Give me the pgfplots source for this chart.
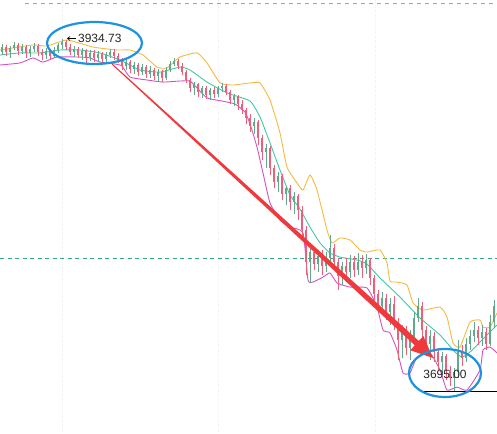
\documentclass[border=0pt]{standalone}
\usepackage{pgfplots}
\pgfplotsset{compat=1.18}
\usepackage{pgfplotstable}
\usepackage{fontspec}
\setmainfont{Liberation Sans}
\usetikzlibrary{arrows.meta}

\definecolor{upc}{RGB}{100,168,140}
\definecolor{dnc}{RGB}{236,96,122}
\definecolor{bandup}{RGB}{246,186,64}
\definecolor{bandmid}{RGB}{58,204,162}
\definecolor{bandlo}{RGB}{214,80,196}
\definecolor{arrowred}{RGB}{238,58,60}
\definecolor{ellblue}{RGB}{30,146,222}
\definecolor{dashgreen}{RGB}{52,168,138}

\pgfplotstableread{
i o h l c
0 3925.9 3931.4 3923.9 3929.3
1 3929.3 3930.7 3923.2 3925.9
2 3925.9 3930.0 3921.9 3928.7
3 3928.7 3932.7 3927.3 3930.7
4 3930.7 3932.1 3923.9 3926.6
5 3926.6 3931.4 3924.6 3929.3
6 3929.3 3930.7 3921.9 3925.3
7 3925.3 3930.0 3922.5 3928.0
8 3928.0 3932.1 3925.9 3930.0
9 3930.0 3931.4 3923.2 3925.9
10 3925.9 3928.0 3920.5 3923.9
11 3923.9 3928.7 3921.2 3926.6
12 3926.6 3928.0 3920.5 3923.2
13 3923.2 3929.3 3921.9 3927.3
14 3927.3 3932.1 3925.3 3930.7
15 3930.7 3934.73 3928.0 3932.7
16 3932.7 3934.1 3927.3 3929.3
17 3929.3 3931.4 3923.9 3925.9
18 3925.9 3930.0 3922.5 3928.0
19 3928.0 3929.3 3921.9 3923.9
20 3923.9 3928.7 3920.5 3926.6
21 3926.6 3928.0 3918.5 3922.5
22 3922.5 3927.3 3919.8 3925.3
23 3925.3 3927.3 3919.1 3921.9
24 3921.9 3926.6 3919.1 3924.6
25 3924.6 3925.9 3918.5 3921.2
26 3921.2 3925.9 3919.1 3923.9
27 3923.9 3928.0 3921.9 3925.9
28 3925.9 3928.0 3920.5 3923.2
29 3923.2 3925.3 3918.5 3920.5
30 3920.5 3921.9 3913.7 3916.4
31 3916.4 3921.2 3913.7 3919.1
32 3919.1 3920.5 3911.7 3914.4
33 3914.4 3919.1 3911.0 3917.1
34 3917.1 3918.5 3909.6 3912.3
35 3912.3 3917.8 3910.3 3915.7
36 3915.7 3917.1 3908.3 3911.0
37 3911.0 3916.4 3908.3 3913.7
38 3913.7 3915.1 3906.9 3909.6
39 3909.6 3914.4 3906.2 3912.3
40 3912.3 3913.7 3905.5 3908.3
41 3908.3 3915.7 3906.9 3913.7
42 3913.7 3919.8 3912.3 3917.8
43 3917.8 3921.9 3916.4 3919.8
44 3919.8 3921.2 3914.4 3916.4
45 3916.4 3918.5 3910.3 3912.3
46 3912.3 3913.7 3904.9 3906.9
47 3906.9 3908.3 3898.7 3901.5
48 3901.5 3905.5 3896.7 3904.2
49 3904.2 3904.9 3895.3 3898.7
50 3898.7 3902.8 3894.7 3901.5
51 3901.5 3902.8 3894.0 3896.7
52 3896.7 3901.5 3893.3 3900.1
53 3900.1 3902.1 3894.7 3897.4
54 3897.4 3902.8 3895.3 3901.5
55 3901.5 3904.9 3898.7 3902.8
56 3902.8 3904.2 3896.7 3898.7
57 3898.7 3900.1 3890.6 3893.3
58 3893.3 3897.4 3889.2 3896.0
59 3896.0 3896.7 3886.5 3890.6
60 3890.6 3893.3 3883.8 3886.5
61 3886.5 3887.9 3877.0 3881.1
62 3881.1 3883.8 3871.5 3875.6
63 3875.6 3881.1 3870.2 3878.3
64 3878.3 3879.7 3862.7 3867.5
65 3867.5 3869.5 3852.5 3857.9
66 3857.9 3863.4 3847.1 3860.7
67 3860.7 3862.0 3842.3 3847.1
68 3847.1 3849.1 3833.5 3837.5
69 3837.5 3844.3 3830.7 3841.6
70 3841.6 3843.0 3825.3 3829.4
71 3829.4 3834.8 3821.9 3833.5
72 3833.5 3835.5 3818.5 3823.9
73 3823.9 3830.7 3815.8 3828.0
74 3828.0 3829.4 3811.7 3818.5
75 3818.5 3821.2 3799.5 3804.9
76 3804.9 3807.6 3774.3 3783.1
77 3783.1 3795.4 3768.9 3789.9
78 3789.9 3793.3 3777.7 3781.8
79 3781.8 3791.3 3776.3 3787.2
80 3787.2 3791.3 3774.3 3780.4
81 3780.4 3789.9 3776.3 3785.9
82 3785.9 3801.5 3780.4 3792.7
83 3792.7 3795.4 3777.7 3783.1
84 3783.1 3785.9 3764.1 3773.6
85 3773.6 3783.1 3767.5 3780.4
86 3780.4 3785.9 3769.5 3776.3
87 3776.3 3787.9 3772.3 3783.1
88 3783.1 3787.2 3772.9 3777.7
89 3777.7 3789.3 3774.3 3783.1
90 3783.1 3787.9 3772.3 3779.1
91 3779.1 3788.6 3775.0 3784.5
92 3784.5 3785.9 3767.5 3772.3
93 3772.3 3774.3 3757.3 3761.4
94 3761.4 3764.1 3748.5 3753.2
95 3753.2 3762.7 3747.1 3758.7
96 3758.7 3761.4 3743.7 3749.1
97 3749.1 3758.7 3740.3 3754.6
98 3754.6 3760.0 3736.9 3742.3
99 3742.3 3745.1 3716.5 3730.1
100 3730.1 3740.3 3717.9 3736.9
101 3736.9 3739.6 3719.9 3724.7
102 3724.7 3736.9 3716.5 3732.8
103 3732.8 3749.1 3728.7 3745.1
104 3745.1 3758.7 3742.3 3753.2
105 3753.2 3755.9 3731.5 3736.9
106 3736.9 3739.6 3719.2 3727.4
107 3727.4 3736.9 3716.5 3732.8
108 3732.8 3735.5 3715.1 3721.9
109 3721.9 3724.7 3709.7 3715.1
110 3715.1 3721.9 3706.3 3719.2
111 3719.2 3720.6 3702.9 3709.7
112 3709.7 3712.4 3698.8 3704.3
113 3704.3 3711.1 3695.0 3708.3
114 3708.3 3730.1 3704.3 3721.9
115 3721.9 3726.7 3712.4 3717.9
116 3717.9 3731.5 3715.1 3727.4
117 3727.4 3736.9 3723.3 3732.8
118 3732.8 3742.3 3728.7 3736.9
119 3736.9 3739.6 3726.7 3731.5
120 3731.5 3740.3 3726.0 3735.5
121 3735.5 3738.3 3723.3 3727.4
122 3727.4 3747.1 3726.0 3742.3
123 3742.3 3757.3 3738.3 3753.2
}\candles

\pgfplotstableread{
x y
-0.5 3927.3
7.75 3930.7
11.25 3930.0
16.25 3934.1
22.75 3929.3
28.75 3927.3
32 3927.3
35.25 3923.9
38.75 3915.7
41.25 3915.1
44.5 3922.5
48.75 3925.3
51.25 3918.5
54.5 3904.9
57.75 3903.5
62 3904.9
64.5 3904.9
67 3893.3
69.5 3870.9
71.25 3847.7
73.75 3836.9
75.25 3832.1
77 3842.3
78.75 3832.1
81.25 3804.9
82.5 3796.1
84.5 3799.5
87 3798.1
89.5 3791.3
91.25 3789.9
94.5 3791.3
96.25 3782.5
97 3770.2
98.75 3769.5
101.25 3767.5
102.75 3755.3
105.25 3750.5
109.5 3752.5
111.25 3745.7
112.75 3728.1
114.5 3725.3
117 3742.3
119.5 3743.7
120.25 3738.9
122 3738.9
123.75 3748.5
}\bandU

\pgfplotstableread{
x y
-0.5 3923.9
4.5 3925.3
9.5 3925.3
14.5 3927.3
19.5 3927.3
24.5 3925.3
29.5 3920.5
34.5 3913.7
39.5 3912.3
44.5 3915.7
47 3913.7
51.25 3905.5
56.25 3898.1
62 3892.6
64.5 3881.7
67 3864.1
69.5 3845.7
72 3828.7
74.5 3819.2
77 3806.9
79.5 3796.1
82 3789.3
84.5 3786.5
88.75 3784.5
91.25 3781.8
94.5 3772.3
99.5 3759.3
104.5 3745.1
109.5 3733.5
113.25 3721.9
115 3718.5
117 3721.9
119.5 3728.7
122 3735.5
123.75 3740.3
}\bandM

\pgfplotstableread{
x y
-0.5 3917.1
4.5 3918.5
7.75 3921.9
10.25 3919.1
13.75 3922.5
19.5 3922.5
22 3921.9
24.5 3919.1
28.25 3917.8
30 3916.4
32 3908.9
36.25 3906.9
40.25 3905.5
44.5 3906.2
47 3906.2
48.75 3901.5
51.25 3894.7
55 3892.6
58.25 3890.6
60.75 3885.1
62 3877.0
63.75 3861.3
65.25 3843.7
67 3823.3
69.5 3811.7
72 3806.9
75.25 3802.9
76.5 3770.9
77.75 3769.5
80.25 3772.9
82 3775.7
83.75 3768.9
87 3766.1
91.25 3765.5
93.75 3752.5
95.25 3736.9
97 3734.9
98.75 3723.3
100.25 3707.7
102 3707.7
103.75 3718.5
107 3721.3
109.5 3709.7
111.25 3696.1
113.75 3698.1
116.25 3696.1
119.5 3709.7
120.25 3723.3
122 3725.3
123.75 3721.3
}\bandL

% pixel position -> axis coordinate (for annotations only)
\newcommand\Px[2]{(axis cs:{((#1)-2)/4},{3961.3-0.68*(#2)})}

\begin{document}
\begin{tikzpicture}
\begin{axis}[
  width=497bp, height=434bp, scale only axis,
  xmin=-0.5, xmax=123.75, ymin=3666.2, ymax=3961.3,
  axis lines=none, ticks=none,
  clip=true,
]
% faint vertical grid
\addplot[gray!15, dotted, line width=0.5bp] coordinates {(15,3666.2) (15,3961.3)};
\addplot[gray!15, dotted, line width=0.5bp] coordinates {(54,3666.2) (54,3961.3)};
\addplot[gray!15, dotted, line width=0.5bp] coordinates {(93.25,3666.2) (93.25,3961.3)};
% dashed price lines
\addplot[gray!70, line width=0.6bp, dash pattern=on 4bp off 4bp] coordinates {(5.75,3959.3) (123.75,3959.3)};
\addplot[dashgreen, line width=0.7bp, dash pattern=on 4bp off 3.5bp] coordinates {(-0.5,3785.9) (123.75,3785.9)};
% bands
\addplot[bandup, line width=0.9bp, smooth, tension=0.3] table[x=x,y=y] {\bandU};
\addplot[bandmid, line width=0.9bp, smooth, tension=0.3] table[x=x,y=y] {\bandM};
\addplot[bandlo, line width=0.9bp, smooth, tension=0.3] table[x=x,y=y] {\bandL};
% candles: wicks
\addplot[upc, line width=0.6bp, quiver={u=0, v=\thisrow{h}-\thisrow{l}},
  restrict expr to domain={\thisrow{c}-\thisrow{o}}{0:1000}] table[x=i,y=l] {\candles};
\addplot[dnc, line width=0.6bp, quiver={u=0, v=\thisrow{h}-\thisrow{l}},
  restrict expr to domain={\thisrow{c}-\thisrow{o}}{-1000:-0.001}] table[x=i,y=l] {\candles};
% candles: bodies
\addplot[upc, line width=2.2bp, quiver={u=0, v=\thisrow{c}-\thisrow{o}},
  restrict expr to domain={\thisrow{c}-\thisrow{o}}{0:1000}] table[x=i,y=o] {\candles};
\addplot[dnc, line width=2.2bp, quiver={u=0, v=\thisrow{c}-\thisrow{o}},
  restrict expr to domain={\thisrow{c}-\thisrow{o}}{-1000:-0.001}] table[x=i,y=o] {\candles};
% low price line
\addplot[black, line width=0.8bp] coordinates {(105.25,3695.0) (123.75,3695.0)};

% red tapered arrow
\fill[arrowred] \Px{111.66}{64.37} -- \Px{414.8}{345.3} -- \Px{410.2}{350.2} -- \Px{433}{358}
   -- \Px{423.4}{336.0} -- \Px{418.8}{340.9} -- \Px{112.34}{63.63} -- cycle;

% ellipses
\draw[ellblue, line width=2.2bp] \Px{94.5}{43} ellipse [x radius=47.5bp, y radius=21bp];
\draw[ellblue, line width=2.2bp] \Px{445}{373} ellipse [x radius=36bp, y radius=24bp];

% labels
\draw[black, line width=0.6bp, -{Straight Barb[length=2.5bp,width=4bp]}] \Px{76}{38.5} -- \Px{67}{38.5};
\node[anchor=west, inner sep=0pt, font=\fontsize{12}{14}\selectfont, text=black!85] at \Px{78}{38.5} {3934.73};
\node[anchor=center, inner sep=0pt, font=\fontsize{12}{14}\selectfont, text=black!85] at \Px{445}{374} {3695.00};
\end{axis}
\end{tikzpicture}
\end{document}
